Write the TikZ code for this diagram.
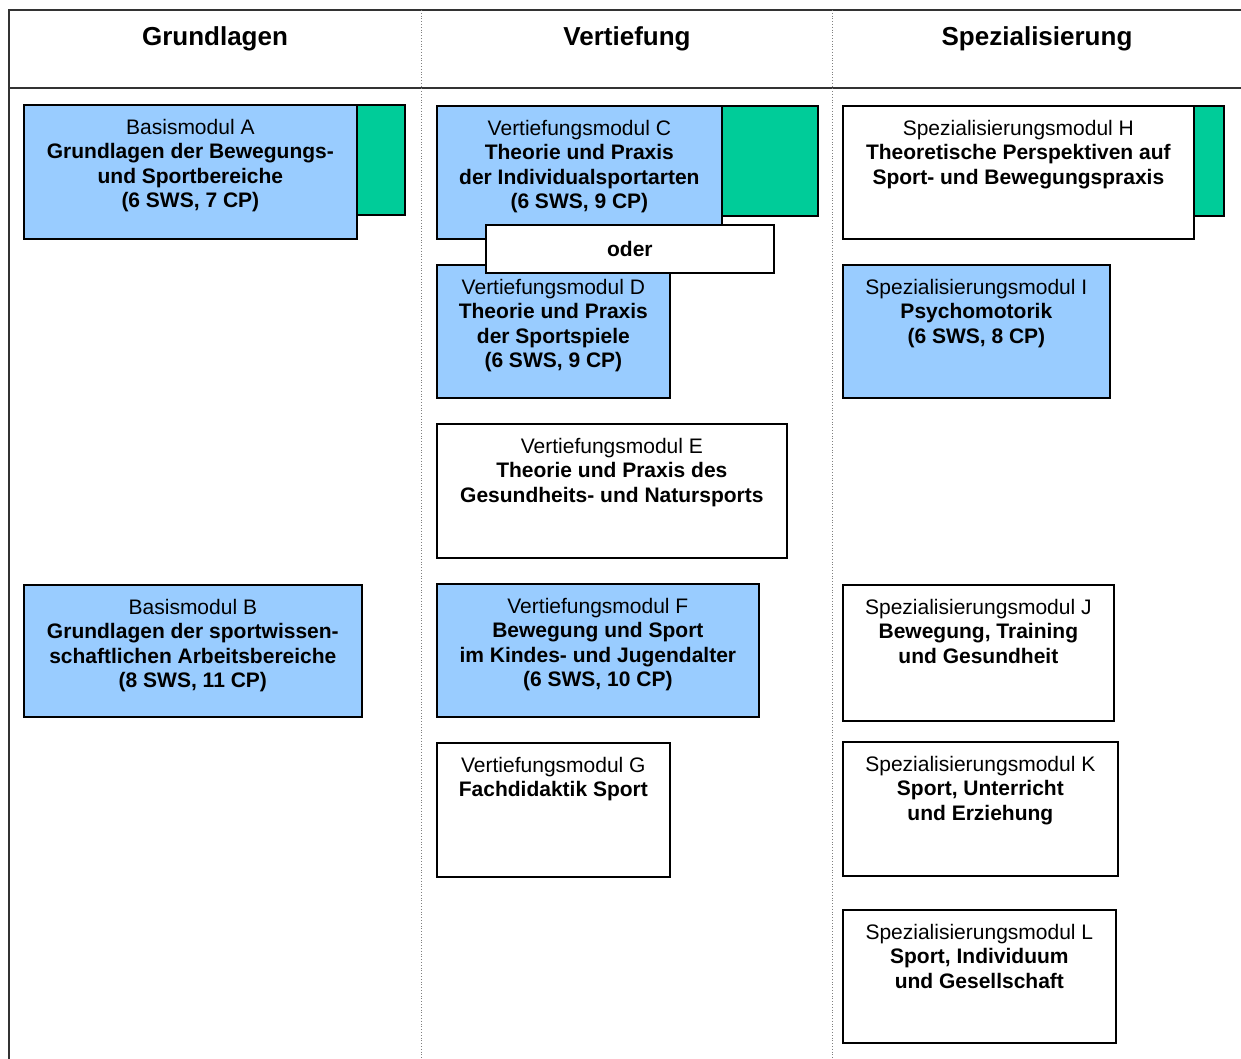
\documentclass[tikz,border=0pt]{standalone}
\usepackage{fontspec}
\setmainfont{Liberation Sans}
\definecolor{modblau}{RGB}{153,204,255}
\definecolor{modgruen}{RGB}{0,204,153}

\begin{document}
\begin{tikzpicture}[x=1pt, y=-1pt,
  box/.style={draw, line width=1.7pt, anchor=north west, inner sep=0pt},
  blau/.style={box, fill=modblau},
  weiss/.style={box, fill=white},
  gruen/.style={box, fill=modgruen},
  txt/.style={anchor=north, align=center, inner sep=0pt, yshift=-15pt,
    font=\fontsize{21}{24.5}\selectfont},
  kopf/.style={font=\fontsize{26}{30}\selectfont\bfseries}]
  \useasboundingbox (0,0) rectangle (1241,1059);

  % frame and columns
  \draw[line width=1.2pt, black!80] (1241,10) -- (9,10) -- (9,1059);
  \draw[line width=1.2pt, black!80] (9,88) -- (1241,88);
  \draw[gray, dotted, line width=0.8pt] (421,10) -- (421,1059);
  \draw[gray, dotted, line width=0.8pt] (832,10) -- (832,1059);

  \node[kopf] (k1) at (215,39) {Grundlagen};
  \node[kopf] (k2) at (627,39) {Vertiefung};
  \node[kopf] (k3) at (1037,39) {Spezialisierung};

  % Grundlagen
  \node[gruen, minimum width=60pt, minimum height=110pt] (gA) at (344,104) {};
  \node[blau, minimum width=333pt, minimum height=134pt,
    label={[txt]north:{Basismodul A\\ \textbf{Grundlagen der Bewegungs-}\\ \textbf{und Sportbereiche}\\ \textbf{(6 SWS, 7 CP)}}}] (A) at (23,104) {};
  \node[blau, minimum width=338pt, minimum height=132pt,
    label={[txt]north:{Basismodul B\\ \textbf{Grundlagen der sportwissen-}\\ \textbf{schaftlichen Arbeitsbereiche}\\ \textbf{(8 SWS, 11 CP)}}}] (B) at (23,584) {};

  % Vertiefung
  \node[gruen, minimum width=117pt, minimum height=110pt] (gC) at (700,105) {};
  \node[blau, minimum width=285pt, minimum height=133pt,
    label={[txt]north:{Vertiefungsmodul C\\ \textbf{Theorie und Praxis}\\ \textbf{der Individualsportarten}\\ \textbf{(6 SWS, 9 CP)}}}] (C) at (436,105) {};
  \node[blau, minimum width=233pt, minimum height=133pt,
    label={[txt]north:{Vertiefungsmodul D\\ \textbf{Theorie und Praxis}\\ \textbf{der Sportspiele}\\ \textbf{(6 SWS, 9 CP)}}}] (D) at (436,264) {};
  \node[weiss, minimum width=288pt, minimum height=48pt,
    font=\fontsize{21}{24.5}\selectfont\bfseries] (oder) at (485,224) {oder};
  \node[weiss, minimum width=350pt, minimum height=134pt,
    label={[txt]north:{Vertiefungsmodul E\\ \textbf{Theorie und Praxis des}\\ \textbf{Gesundheits- und Natursports}}}] (E) at (436,423) {};
  \node[blau, minimum width=322pt, minimum height=133pt,
    label={[txt]north:{Vertiefungsmodul F\\ \textbf{Bewegung und Sport}\\ \textbf{im Kindes- und Jugendalter}\\ \textbf{(6 SWS, 10 CP)}}}] (F) at (436,583) {};
  \node[weiss, minimum width=233pt, minimum height=134pt,
    label={[txt]north:{Vertiefungsmodul G\\ \textbf{Fachdidaktik Sport}}}] (G) at (436,742) {};

  % Spezialisierung
  \node[gruen, minimum width=43pt, minimum height=110pt] (gH) at (1180,105) {};
  \node[weiss, minimum width=351pt, minimum height=133pt,
    label={[txt]north:{Spezialisierungsmodul H\\ \textbf{Theoretische Perspektiven auf}\\ \textbf{Sport- und Bewegungspraxis}}}] (H) at (842,105) {};
  \node[blau, minimum width=267pt, minimum height=133pt,
    label={[txt]north:{Spezialisierungsmodul I\\ \textbf{Psychomotorik}\\ \textbf{(6 SWS, 8 CP)}}}] (I) at (842,264) {};
  \node[weiss, minimum width=271pt, minimum height=136pt,
    label={[txt]north:{Spezialisierungsmodul J\\ \textbf{Bewegung, Training}\\ \textbf{und Gesundheit}}}] (J) at (842,584) {};
  \node[weiss, minimum width=275pt, minimum height=134pt,
    label={[txt]north:{Spezialisierungsmodul K\\ \textbf{Sport, Unterricht}\\ \textbf{und Erziehung}}}] (K) at (842,741) {};
  \node[weiss, minimum width=273pt, minimum height=133pt,
    label={[txt]north:{Spezialisierungsmodul L\\ \textbf{Sport, Individuum}\\ \textbf{und Gesellschaft}}}] (L) at (842,909) {};
\end{tikzpicture}
\end{document}
